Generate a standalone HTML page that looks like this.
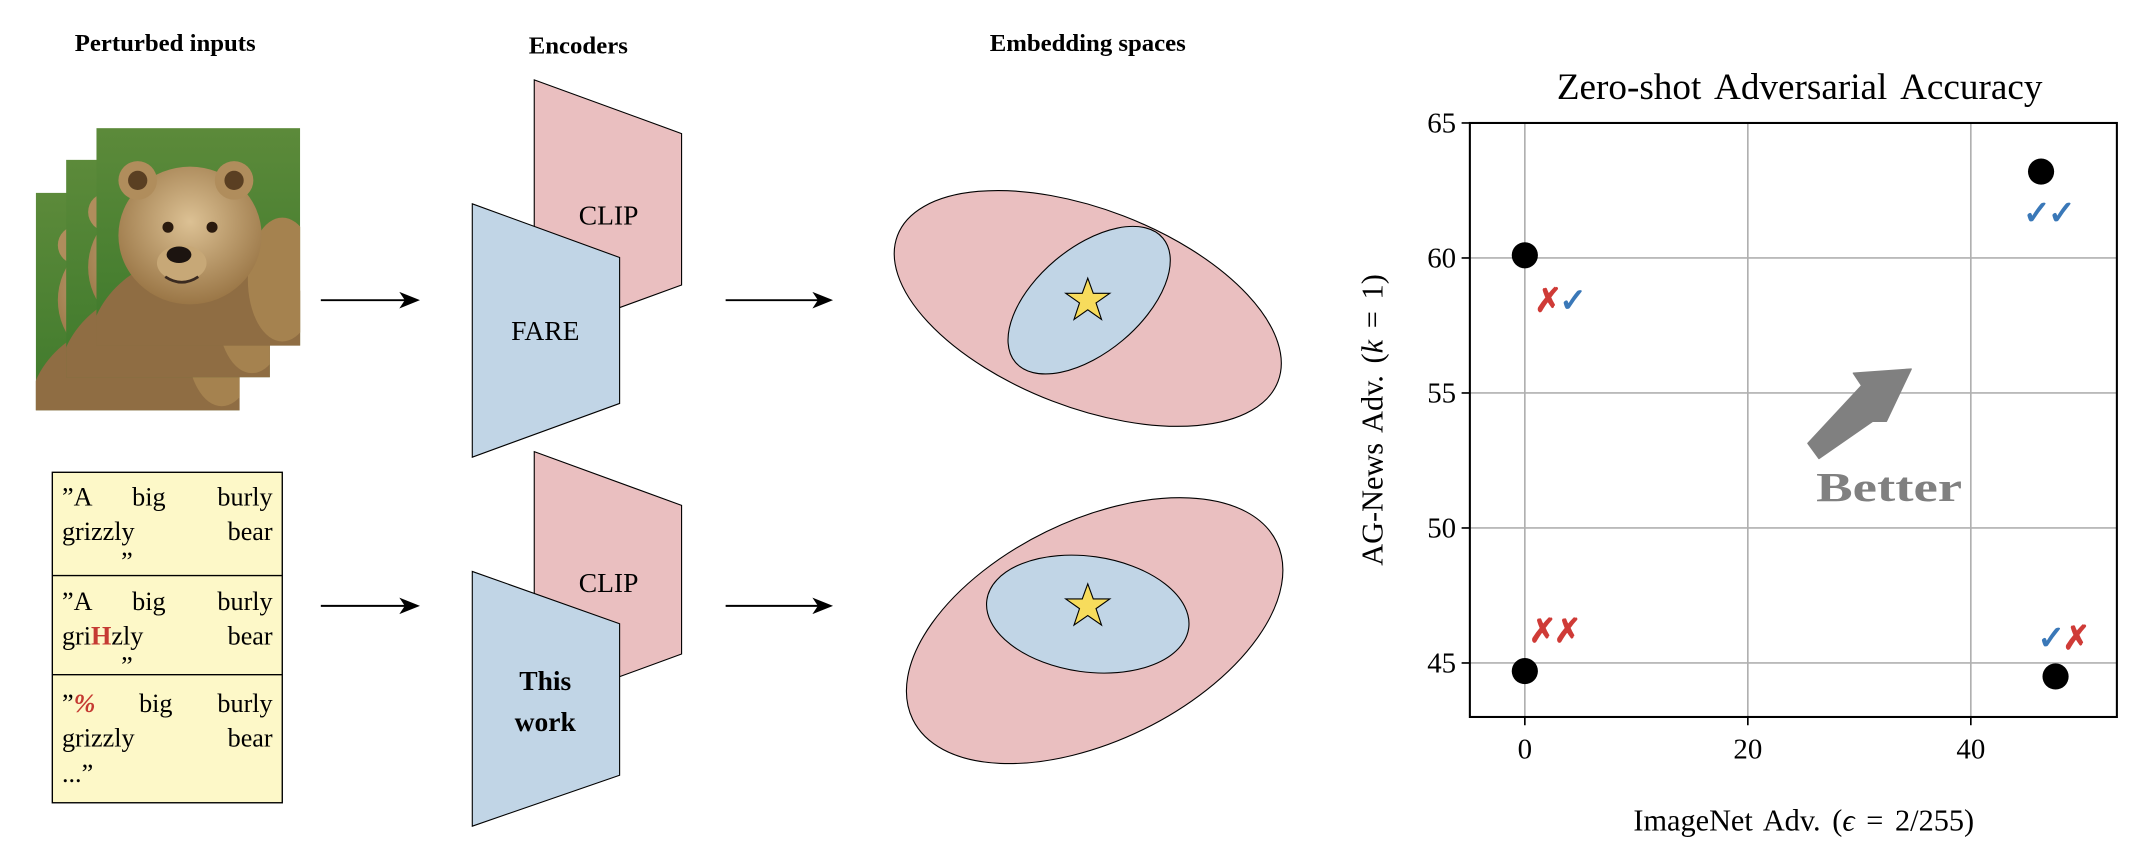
<!DOCTYPE html>
<html><head><meta charset="utf-8"><style>
html,body{margin:0;padding:0;background:#fff;}
svg{display:block;}
text{font-family:"Liberation Serif",serif;}
</style></head><body>
<svg id="root" width="2148" height="850" viewBox="0 0 1560 617.3" xmlns="http://www.w3.org/2000/svg">
<defs>
<linearGradient id="grass" x1="0" y1="0" x2="0" y2="1"><stop offset="0" stop-color="#5c8a3a"/><stop offset="1" stop-color="#3f7a2c"/></linearGradient>
<radialGradient id="fur" cx="0.5" cy="0.4" r="0.6"><stop offset="0" stop-color="#dcc194"/><stop offset="1" stop-color="#9a7646"/></radialGradient>
<clipPath id="bc"><rect x="0" y="0" width="148" height="158"/></clipPath>
<g id="bear" clip-path="url(#bc)">
<rect x="0" y="0" width="148" height="158" fill="url(#grass)"/>
<ellipse cx="80" cy="160" rx="85" ry="70" fill="#8f6d43"/>
<ellipse cx="135" cy="110" rx="25" ry="45" fill="#a5824f"/>
<ellipse cx="68" cy="78" rx="52" ry="50" fill="url(#fur)"/>
<circle cx="30" cy="38" r="14" fill="#b08d5c"/><circle cx="30" cy="38" r="7" fill="#5a3f22"/>
<circle cx="100" cy="38" r="14" fill="#b08d5c"/><circle cx="100" cy="38" r="7" fill="#5a3f22"/>
<circle cx="52" cy="72" r="4" fill="#2a1a0e"/><circle cx="84" cy="72" r="4" fill="#2a1a0e"/>
<ellipse cx="62" cy="98" rx="18" ry="13" fill="#c7a877"/>
<ellipse cx="60" cy="92" rx="9" ry="6" fill="#1c1410"/>
<path d="M50 108 Q62 116 74 108" stroke="#3a2a20" stroke-width="2" fill="none"/>
</g>
</defs>

<text x="120" y="37" font-size="18" font-weight="bold" text-anchor="middle">Perturbed inputs</text>
<text x="420" y="39" font-size="18" font-weight="bold" text-anchor="middle">Encoders</text>
<text x="790" y="37" font-size="18" font-weight="bold" text-anchor="middle">Embedding spaces</text>

<g transform="translate(26,140)"><use href="#bear"/></g>
<g transform="translate(48,116)"><use href="#bear"/></g>
<g transform="translate(70,93)"><use href="#bear"/></g>

<g font-size="19">
<rect x="38" y="343" width="167" height="240" fill="#fdf8c8" stroke="#000" stroke-width="1"/>
<line x1="38" y1="418" x2="205" y2="418" stroke="#000" stroke-width="1"/>
<line x1="38" y1="490" x2="205" y2="490" stroke="#000" stroke-width="1"/>
<text x="45" y="367">”A</text><text x="96" y="367">big</text><text x="198" y="367" text-anchor="end">burly</text>
<text x="45" y="392">grizzly</text><text x="198" y="392" text-anchor="end">bear</text>
<text x="88" y="414">”</text>
<text x="45" y="443">”A</text><text x="96" y="443">big</text><text x="198" y="443" text-anchor="end">burly</text>
<text x="45" y="468">gri<tspan fill="#c53a32" font-weight="bold">H</tspan>zly</text><text x="198" y="468" text-anchor="end">bear</text>
<text x="88" y="490">”</text>
<text x="45" y="517">”<tspan fill="#c53a32" font-style="italic" font-weight="bold">%</tspan></text><text x="101" y="517">big</text><text x="198" y="517" text-anchor="end">burly</text>
<text x="45" y="542">grizzly</text><text x="198" y="542" text-anchor="end">bear</text>
<text x="45" y="568">...”</text>
</g>

<g><line x1="233" y1="218" x2="300" y2="218" stroke="#000" stroke-width="1.4"/><path d="M305 218 L290 212 L294 218 L290 224 Z"/></g>
<g><line x1="233" y1="440" x2="300" y2="440" stroke="#000" stroke-width="1.4"/><path d="M305 440 L290 434 L294 440 L290 446 Z"/></g>
<g><line x1="527" y1="218" x2="600" y2="218" stroke="#000" stroke-width="1.4"/><path d="M605 218 L590 212 L594 218 L590 224 Z"/></g>
<g><line x1="527" y1="440" x2="600" y2="440" stroke="#000" stroke-width="1.4"/><path d="M605 440 L590 434 L594 440 L590 446 Z"/></g>

<g>
<polygon points="388,58 495,97 495,207 388,246" fill="#eabfc0" stroke="#000" stroke-width="0.8"/>
<text x="442" y="163" font-size="20" text-anchor="middle">CLIP</text></g>
<g>
<polygon points="343,148 450,187 450,293 343,332" fill="#c1d5e6" stroke="#000" stroke-width="0.8"/>
<text x="396" y="247" font-size="20" text-anchor="middle">FARE</text></g>
<g>
<polygon points="388,328 495,367 495,475 388,514" fill="#eabfc0" stroke="#000" stroke-width="0.8"/>
<text x="442" y="430" font-size="20" text-anchor="middle">CLIP</text></g>
<g>
<polygon points="343,415 450,453 450,563 343,600" fill="#c1d5e6" stroke="#000" stroke-width="0.8"/>
<text x="396" y="501" font-size="20" font-weight="bold" text-anchor="middle">This</text>
<text x="396" y="531" font-size="20" font-weight="bold" text-anchor="middle">work</text></g>

<g>
<ellipse cx="790" cy="224" rx="148" ry="72" transform="rotate(21 790 224)" fill="#eabfc0" stroke="#000" stroke-width="0.8"/>
<ellipse cx="791" cy="218" rx="70" ry="38" transform="rotate(-40 791 218)" fill="#c1d5e6" stroke="#000" stroke-width="0.8"/>
<polygon points="790,202 794,213 806,213 796,220 800,232 790,225 780,232 784,220 774,213 786,213" fill="#f7dc5c" stroke="#000" stroke-width="0.8"/>
</g>
<g>
<ellipse cx="795" cy="458" rx="147" ry="80" transform="rotate(-26 795 458)" fill="#eabfc0" stroke="#000" stroke-width="0.8"/>
<ellipse cx="790" cy="446" rx="74" ry="42" transform="rotate(8 790 446)" fill="#c1d5e6" stroke="#000" stroke-width="0.8"/>
<polygon points="790,424 794,435 806,435 796,442 800,454 790,447 780,454 784,442 774,435 786,435" fill="#f7dc5c" stroke="#000" stroke-width="0.8"/>
</g>

<g id="chart"></g>
</svg>
<script>
const xTicks = [0, 20, 40];
const yTicks = [45, 50, 55, 60, 65];
const xValues = [0, 0, 46.3, 47.6];
const yValues = [60.1, 44.7, 63.2, 44.5];
const markLabels = [["✗","✓"], ["✗","✗"], ["✓","✓"], ["✓","✗"]];

const NS = "http://www.w3.org/2000/svg";
const L = 1067.5, R = 1537.4, T = 89.3, B = 520.7;
const xMin = -4.93, xMax = 53.1, yMin = 43.0, yMax = 65.0;
const sx = v => L + (v - xMin) / (xMax - xMin) * (R - L);
const sy = v => B - (v - yMin) / (yMax - yMin) * (B - T);
const chart = document.getElementById('chart');
function mk(tag, attrs, parent) {
  const e = document.createElementNS(NS, tag);
  for (const k in attrs) e.setAttribute(k, attrs[k]);
  (parent || chart).appendChild(e);
  return e;
}
xTicks.forEach(t => {
  const g = mk('line', {x1: sx(t), x2: sx(t), y1: T, y2: B, stroke: '#b0b0b0', 'stroke-width': 1.2});
  
  
});
yTicks.forEach(t => {
  const g = mk('line', {x1: L, x2: R, y1: sy(t), y2: sy(t), stroke: '#b0b0b0', 'stroke-width': 1.2});
  
  
});
const fr = mk('rect', {x: L, y: T, width: R - L, height: B - T, fill: 'none', stroke: '#000', 'stroke-width': 1.5});


xTicks.forEach(t => {
  mk('line', {x1: sx(t), x2: sx(t), y1: B, y2: B + 6, stroke: '#000', 'stroke-width': 1.2});
  const tx = mk('text', {x: sx(t), y: B + 30, 'font-size': 21, 'text-anchor': 'middle'});
  tx.textContent = t;
  
  
});
yTicks.forEach(t => {
  mk('line', {x1: L - 6, x2: L, y1: sy(t), y2: sy(t), stroke: '#000', 'stroke-width': 1.2});
  const tx = mk('text', {x: L - 10, y: sy(t) + 7, 'font-size': 21, 'text-anchor': 'end'});
  tx.textContent = t;
  
  
});
const offs = [[25, 41], [21, -21], [5, 38], [5, -20]];
xValues.forEach((xv, i) => {
  const c = mk('circle', {cx: sx(xv), cy: sy(yValues[i]), r: 9.5, fill: '#000'});
  
  
  const tx = mk('text', {x: sx(xv) + offs[i][0], y: sy(yValues[i]) + offs[i][1], 'font-size': 24, 'font-family': 'DejaVu Sans, sans-serif', 'font-weight': 'bold', 'text-anchor': 'middle', 'letter-spacing': '-2'});
  
  
  markLabels[i].forEach(m => {
    const s = document.createElementNS(NS, 'tspan');
    s.setAttribute('fill', m === '✓' ? '#3a78b8' : '#cf3b37');
    s.textContent = m;
    tx.appendChild(s);
  });
});
const ar = mk('polygon', {points: '1313,322 1321,333 1360,306 1370,306 1388,268 1346,271 1352,280', fill: '#808080', stroke: '#808080', 'stroke-width': 1, 'stroke-linejoin': 'round'});


const bt = mk('text', {x: 1319, y: 364, 'font-size': 30, 'font-weight': 'bold', fill: '#808080', textLength: 106, lengthAdjust: 'spacingAndGlyphs'});
bt.textContent = 'Better';


const ti = mk('text', {x: 1307, y: 72, 'font-size': 27, 'text-anchor': 'middle', 'word-spacing': '4'});
ti.textContent = 'Zero-shot Adversarial Accuracy';


const xl = mk('text', {x: 1310, y: 603, 'font-size': 22, 'text-anchor': 'middle', 'word-spacing': '3'});
xl.innerHTML = 'ImageNet Adv. (<tspan font-style="italic">ϵ</tspan> = 2/255)';


const yl = mk('text', {x: 0, y: 0, 'font-size': 22, 'text-anchor': 'middle', 'word-spacing': '3', transform: 'translate(1004,305) rotate(-90)'});
yl.innerHTML = 'AG-News Adv. (<tspan font-style="italic">k</tspan> = 1)';


</script>
</body></html>
